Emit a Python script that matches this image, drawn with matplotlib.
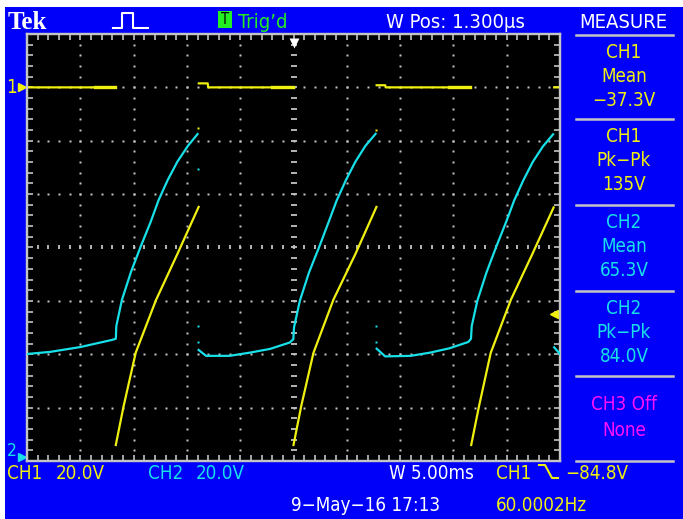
import numpy as np
import matplotlib
matplotlib.use("Agg")
import matplotlib.pyplot as plt
from matplotlib import font_manager, transforms
from matplotlib.lines import Line2D
from matplotlib.patches import Rectangle
from matplotlib.ticker import MultipleLocator

W, H = 683, 519
nan = np.nan

#%% scope settings
ch1_scale, ch1_pos = 20.0, 3.0     # V/div, ground position in div
ch2_scale, ch2_pos = 20.0, -3.92
time_scale = 5.0                   # ms/div
trig_level = -84.8

#%% traces (time in ms from trigger, volts)
ch1_t = [-25.0, -16.75, nan,
         -16.67, -15.95, -14.8, -12.9, -10.9, -8.9, nan,
         -8.88, -8.05, -8.0, -4.0, -0.05, nan,
         0.0, 0.72, 1.87, 3.75, 5.8, 7.78, nan,
         7.8, 8.6, 8.65, 12.0, 16.6, nan,
         16.67, 17.4, 18.5, 20.4, 22.4, 24.4, nan,
         24.45, 25.0]
ch1_v = [0.0, 0.0, nan,
         -134.0, -119.7, -99.4, -79.7, -62.5, -44.8, nan,
         1.5, 1.5, 0.0, 0.0, 0.0, nan,
         -134.0, -119.5, -99.5, -79.5, -62.5, -44.8, nan,
         0.8, 0.8, 0.0, 0.0, 0.0, nan,
         -134.0, -119.5, -99.5, -79.5, -62.5, -45.0, nan,
         0.0, 0.0]
# stretches of the flat part where the trace is smeared by noise
ch1_noisy_t = [-18.6, -16.75, nan, -2.0, -0.05, nan, 14.6, 16.6]
ch1_noisy_v = [0.0, 0.0, nan, 0.0, 0.0, nan, 0.0, 0.0]

ch2_t = [-25.0, -22.8, -20.0, -17.0, -16.67,
         -16.62, -16.1, -15.25, -14.35, -13.4, -12.65, -11.8, -10.9, -9.9, -9.0, nan,
         -8.9, -8.2, -6.0, -4.1, -2.2, -0.35, -0.02,
         0.05, 0.6, 1.45, 2.4, 3.3, 4.05, 4.9, 5.8, 6.75, 7.7, nan,
         7.8, 8.6, 11.0, 12.8, 14.6, 16.4, 16.65,
         16.72, 17.25, 18.1, 19.0, 19.95, 20.7, 21.55, 22.45, 23.4, 24.35, nan,
         24.45, 25.0]
ch2_v = [38.5, 39.3, 41.1, 43.8, 44.2,
         49.0, 58.7, 69.2, 78.6, 88.0, 96.2, 103.7, 110.5, 116.5, 120.9, nan,
         40.0, 37.8, 37.8, 39.0, 40.4, 42.8, 44.0,
         48.5, 58.5, 69.0, 78.5, 88.0, 96.0, 103.5, 110.5, 116.5, 121.0, nan,
         40.5, 37.6, 37.8, 39.0, 40.6, 43.0, 44.2,
         49.0, 58.5, 69.0, 78.5, 88.0, 96.0, 103.5, 110.5, 116.3, 120.8, nan,
         41.0, 38.5]

# stray samples
ch1_dots_t = [-8.96, 7.75]
ch1_dots_v = [-15.2, -16.0]
ch2_dots_t = [-8.96, -9.0, -9.0, 7.7, 7.7]
ch2_dots_v = [107.8, 49.0, 43.0, 49.0, 43.0]

#%% readouts
measure_items = [("CH1", "Mean", "\u221237.3V"),
                 ("CH1", "Pk\u2212Pk", "135V"),
                 ("CH2", "Mean", "65.3V"),
                 ("CH2", "Pk\u2212Pk", "84.0V"),
                 ("CH3 Off", "None", "")]
measure_colors = ["yellow", "yellow", "cyan", "cyan", "magenta"]

BLUE = "#0000fa"
YEL = "#f0f010"
CYN = "#18e0e8"
MAG = "#ff10ff"
GRN = "#22ee22"
GRAY = "#c4c4c4"
cmap = {"yellow": YEL, "cyan": CYN, "magenta": MAG}

# look for a narrow font, the scope font is tall and thin
fl = font_manager.fontManager.ttflist
cond_stretch = ("condensed", "semi-condensed", "extra-condensed", "ultra-condensed")
FONT = {"family": "DejaVu Sans"}
FS, FS_TOP = 12.0, 12.5
pref = ["Liberation Sans Narrow", "DejaVu Sans", "Noto Sans", "Open Sans", "Roboto"]
found = None
for p in pref:
    for f in fl:
        if f.name == p and (f.stretch in cond_stretch or "Narrow" in f.name):
            found = f
            break
    if found:
        break
if found is None:
    for f in fl:
        if "Condensed" in f.name or "Narrow" in f.name:
            found = f
            break
if found is not None:
    FONT = {"family": found.name, "stretch": found.stretch}
    FS, FS_TOP = 13.5, 14.5


def fx(x):
    return x / W


def fy(y):
    return 1 - y / H


fig = plt.figure(figsize=(W / 100, H / 100), dpi=100)
fig.patch.set_facecolor("white")
fig.add_artist(Rectangle((fx(5), 0), 1 - fx(5), fy(7), transform=fig.transFigure,
                         facecolor=BLUE, edgecolor="none", zorder=0))

ax = fig.add_axes([fx(27), fy(461), 533 / W, 427 / H])
ax.set_facecolor("black")
ax.set_xlim(-5 * time_scale, 5 * time_scale)
ax.set_ylim((-4 - ch1_pos) * ch1_scale, (4 - ch1_pos) * ch1_scale)
ax2 = ax.twinx()
ax2.set_ylim((-4 - ch2_pos) * ch2_scale, (4 - ch2_pos) * ch2_scale)

for a in (ax, ax2):
    for s in a.spines.values():
        s.set_color(GRAY)
        s.set_linewidth(1.6)
ax.xaxis.set_major_locator(MultipleLocator(time_scale))
ax.xaxis.set_minor_locator(MultipleLocator(time_scale / 5))
ax.yaxis.set_major_locator(MultipleLocator(ch1_scale))
ax.yaxis.set_minor_locator(MultipleLocator(ch1_scale / 5))
ax.tick_params(which="both", direction="in", top=True, right=True, bottom=True, left=True,
               labelbottom=False, labelleft=False, color=GRAY, width=1.2, length=4)
ax2.tick_params(which="both", right=False, left=False, labelright=False)

# graticule
x0, x1 = ax.get_xlim()
y0, y1 = ax.get_ylim()
xs_fine = np.arange(x0 + 1, x1, time_scale / 5)
ys_fine = np.arange(y0 + 4, y1, ch1_scale / 5)
for xl in np.arange(x0 + time_scale, x1, time_scale):
    if abs(xl) < 1e-9:
        ax.plot(np.full_like(ys_fine, xl), ys_fine, ls="none", marker="_", ms=4.5,
                mew=1.3, color=GRAY, zorder=1)
    else:
        ax.plot(np.full_like(ys_fine, xl), ys_fine, ls="none", marker="s", ms=1.5,
                mec="none", color=GRAY, zorder=1)
ymid = (y0 + y1) / 2
for yl in np.arange(y0 + ch1_scale, y1, ch1_scale):
    if abs(yl - ymid) < 1e-9:
        ax.plot(xs_fine, np.full_like(xs_fine, yl), ls="none", marker="|", ms=3.5,
                mew=1.3, color=GRAY, zorder=1)
    else:
        ax.plot(xs_fine, np.full_like(xs_fine, yl), ls="none", marker="s", ms=1.5,
                mec="none", color=GRAY, zorder=1)

# traces
ax.plot(ch1_t, ch1_v, color=YEL, lw=1.6, zorder=3)
ax.plot(ch1_noisy_t, ch1_noisy_v, color=YEL, lw=2.4, zorder=3)
ax.plot(ch1_dots_t, ch1_dots_v, ls="none", marker="s", ms=1.8, mec="none", color=YEL)
ax2.plot(ch2_t, ch2_v, color=CYN, lw=1.6, zorder=3)
ax2.plot(ch2_dots_t, ch2_dots_v, ls="none", marker="s", ms=1.8, mec="none", color=CYN)

# ground markers, trigger markers
tr1 = transforms.blended_transform_factory(ax.transAxes, ax.transData)
tr2 = transforms.blended_transform_factory(ax2.transAxes, ax2.transData)
ax.plot([-0.009], [0], transform=tr1, marker=">", ms=6, color=YEL, clip_on=False)
ax.text(-0.029, 0, "1", transform=tr1, color=YEL, fontsize=FS, ha="center",
        va="center", **FONT)
ax2.plot([-0.009], [0], transform=tr2, marker=">", ms=6, color=CYN, clip_on=False)
ax2.text(-0.029, 2, "2", transform=tr2, color=CYN, fontsize=FS - 1, ha="center",
         va="center", **FONT)
ax.plot([0.988], [trig_level], transform=tr1, marker="<", ms=6, color=YEL, clip_on=False)
trt = transforms.blended_transform_factory(ax.transData, ax.transAxes)
ax.plot([0], [0.978], transform=trt, marker="v", ms=7, color="white", mec="none", clip_on=False)

# top bar
fig.text(fx(8), fy(29), "Tek", color="white", fontsize=18, family="Liberation Serif",
         weight="bold", va="baseline")
fig.add_artist(Line2D([fx(113), fx(122), fx(122), fx(133), fx(133), fx(148)],
                      [fy(28), fy(28), fy(13), fy(13), fy(28), fy(28)],
                      transform=fig.transFigure, color="white", lw=1.5))
fig.add_artist(Rectangle((fx(218), fy(28)), 14 / W, 17 / H, transform=fig.transFigure,
                         facecolor=GRN, edgecolor="none"))
fig.text(fx(225), fy(19.5), "T", color="black", fontsize=FS - 3, ha="center",
         va="center", **FONT)
fig.text(fx(238), fy(28), "Trig\u2019d", color=GRN, fontsize=FS_TOP, va="baseline", **FONT)
fig.text(fx(386), fy(28), "W Pos: 1.300\u00b5s", color="white", fontsize=FS_TOP,
         va="baseline", **FONT)
fig.text(fx(623), fy(28), "MEASURE", color="white", fontsize=FS_TOP, ha="center",
         va="baseline", **FONT)

# measure panel
sep_y = [35, 119, 205, 291, 376, 461]
for yy in sep_y:
    fig.add_artist(Line2D([fx(576), fx(673)], [fy(yy), fy(yy)], transform=fig.transFigure,
                          color=GRAY, lw=1.8))
for i, (item, cname) in enumerate(zip(measure_items, measure_colors)):
    top = sep_y[i]
    lines = [s for s in item if s]
    offs = [18, 42, 66] if len(lines) == 3 else [28, 55]
    for txt, off in zip(lines, offs):
        fig.text(fx(624), fy(top + off), txt, color=cmap[cname], fontsize=FS,
                 ha="center", va="center", **FONT)

# bottom readouts
fig.text(fx(7), fy(479), "CH1", color=YEL, fontsize=FS, va="baseline", **FONT)
fig.text(fx(56), fy(479), "20.0V", color=YEL, fontsize=FS, va="baseline", **FONT)
fig.text(fx(148), fy(479), "CH2", color=CYN, fontsize=FS, va="baseline", **FONT)
fig.text(fx(196), fy(479), "20.0V", color=CYN, fontsize=FS, va="baseline", **FONT)
fig.text(fx(389), fy(479), "W 5.00ms", color="white", fontsize=FS, va="baseline", **FONT)
fig.text(fx(496), fy(479), "CH1", color=YEL, fontsize=FS, va="baseline", **FONT)
fig.add_artist(Line2D([fx(539), fx(545), fx(552), fx(558)],
                      [fy(465), fy(465), fy(478), fy(478)],
                      transform=fig.transFigure, color=YEL, lw=1.5))
fig.text(fx(565), fy(479), "\u221284.8V", color=YEL, fontsize=FS, va="baseline", **FONT)
fig.text(fx(291), fy(511), "9\u2212May\u221216 17:13", color="white", fontsize=FS,
         va="baseline", **FONT)
fig.text(fx(496), fy(511), "60.0002Hz", color=YEL, fontsize=FS, va="baseline", **FONT)

fig.savefig("out.png", dpi=100, facecolor=fig.get_facecolor())
